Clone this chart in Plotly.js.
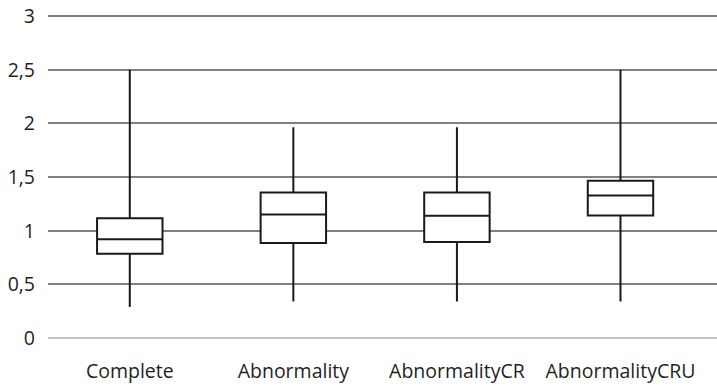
<!DOCTYPE html>
<html>
<head>
<meta charset="utf-8">
<script src="https://cdn.plot.ly/plotly-3.0.1.min.js"></script>
<style>html,body{margin:0;padding:0;background:#fff;}#chart{width:717px;height:388px;}</style>
</head>
<body>
<div id="chart"></div>
<script>
const categories = ["Complete", "Abnormality", "AbnormalityCR", "AbnormalityCRU"];
const lowerFence = [0.29, 0.34, 0.34, 0.34];
const q1 = [0.785, 0.885, 0.894, 1.142];
const median = [0.92, 1.151, 1.139, 1.328];
const q3 = [1.117, 1.356, 1.356, 1.465];
const upperFence = [2.5, 1.965, 1.965, 2.5];
const yTicks = [0, 0.5, 1, 1.5, 2, 2.5, 3];

const trace = {
  type: "box",
  x: categories,
  lowerfence: lowerFence,
  q1: q1,
  median: median,
  q3: q3,
  upperfence: upperFence,
  boxpoints: false,
  whiskerwidth: 0,
  width: 0.4,
  fillcolor: "#ffffff",
  line: {color: "#1a1a1a", width: 2},
  hoverinfo: "skip"
};

const layout = {
  width: 717,
  height: 388,
  margin: {l: 48, r: 0, t: 15, b: 50},
  paper_bgcolor: "#ffffff",
  plot_bgcolor: "#ffffff",
  separators: ", ",
  showlegend: false,
  font: {family: "Open Sans", size: 19.5, color: "#1f1f1f"},
  xaxis: {
    type: "category",
    range: [-0.5, 3.59],
    showgrid: false,
    zeroline: false,
    showline: false,
    ticks: "",
    ticklabelstandoff: 19,
    tickfont: {family: "Open Sans", size: 19.5, color: "#1f1f1f"}
  },
  yaxis: {
    range: [0, 3.01],
    tickvals: yTicks,
    showgrid: true,
    gridcolor: "#808080",
    gridwidth: 2,
    zeroline: true,
    zerolinecolor: "#c4c4c4",
    zerolinewidth: 2,
    showline: false,
    ticks: "",
    ticklabelstandoff: 12,
    tickfont: {family: "Open Sans", size: 19.5, color: "#1f1f1f"}
  }
};

Plotly.newPlot("chart", [trace], layout, {staticPlot: true, displayModeBar: false});
</script>
</body>
</html>
